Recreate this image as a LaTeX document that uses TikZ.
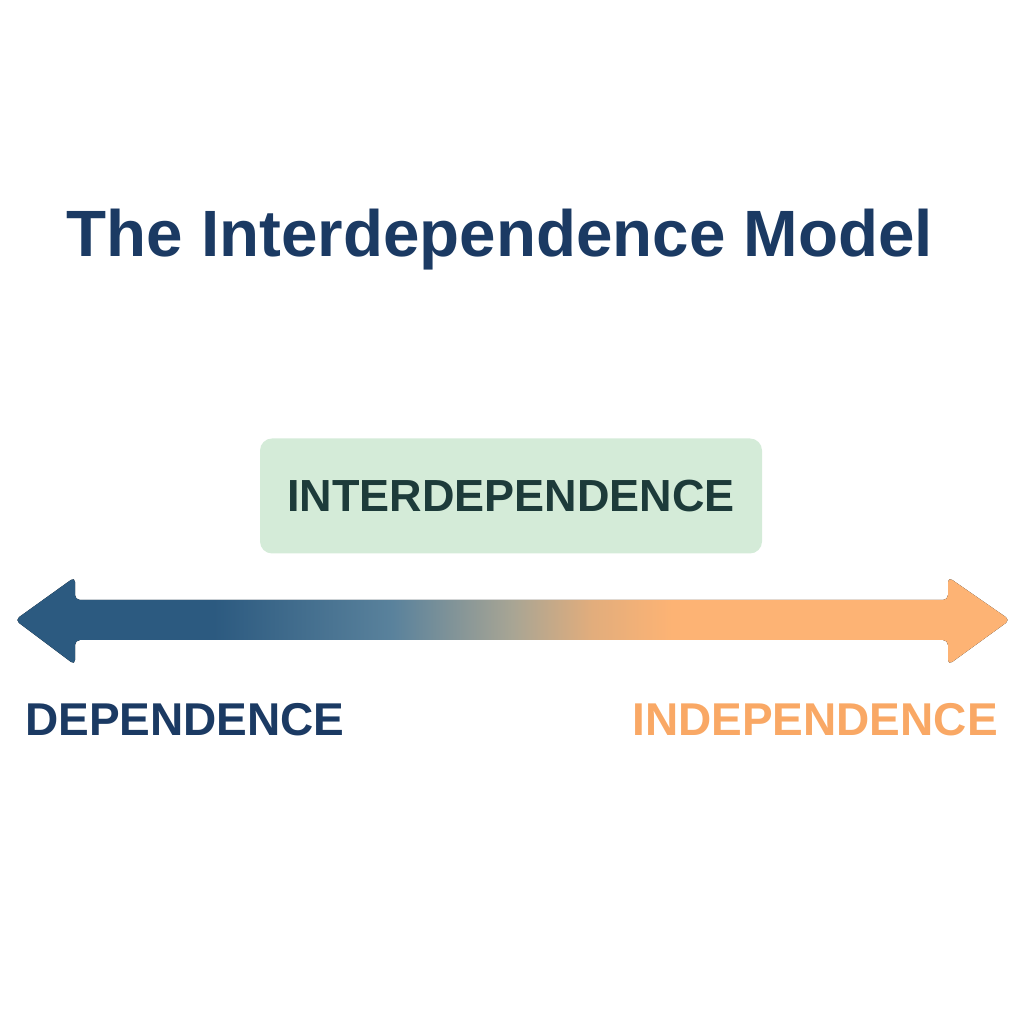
\documentclass[tikz,border=0pt]{standalone}
\usepackage{fontspec}
\setmainfont{Liberation Sans}
\definecolor{navy}{HTML}{1B3A63}
\definecolor{darkgreen}{HTML}{1D3B3A}
\definecolor{boxgreen}{HTML}{D4EBD8}
\definecolor{lblue}{HTML}{2C5A80}
\definecolor{lmid}{HTML}{5A829C}
\definecolor{lgray}{HTML}{A8A594}
\definecolor{lomid}{HTML}{E2AD7C}
\definecolor{lorange}{HTML}{FDB374}
\definecolor{orangetxt}{HTML}{F9A865}
\pgfdeclarehorizontalshading{arrowgrad}{100bp}{color(0bp)=(lblue); color(35bp)=(lblue); color(44bp)=(lmid); color(50bp)=(lgray); color(54bp)=(lomid); color(58bp)=(lorange); color(100bp)=(lorange)}
\begin{document}
\begin{tikzpicture}[x=1pt,y=1pt,
  lab/.style={font=\fontsize{46}{50}\selectfont\bfseries, inner sep=0pt}]
\useasboundingbox (0,0) rectangle (1024,1024);
\node[font=\fontsize{65.5}{72}\selectfont\bfseries, text=navy, inner sep=0pt] (title) at (500,784) {The Interdependence Model};
\node[draw=none, fill=boxgreen, rounded corners=12pt, minimum width=502pt, minimum height=115pt] (box) at (511,528) {};
\node[lab, font=\fontsize{45}{50}\selectfont\bfseries, text=darkgreen] (inter) at (511,528) {INTERDEPENDENCE};
\fill[shading=arrowgrad, rounded corners=5pt]
  (15,404) -- (75,447) -- (75,424) -- (948,424) -- (948,447) -- (1010,404)
  -- (948,359) -- (948,384) -- (75,384) -- (75,359) -- cycle;
\node[lab, text=navy, anchor=west] (dep) at (25,304) {DEPENDENCE};
\node[lab, text=orangetxt, anchor=east] (indep) at (998,304) {INDEPENDENCE};
\end{tikzpicture}
\end{document}
